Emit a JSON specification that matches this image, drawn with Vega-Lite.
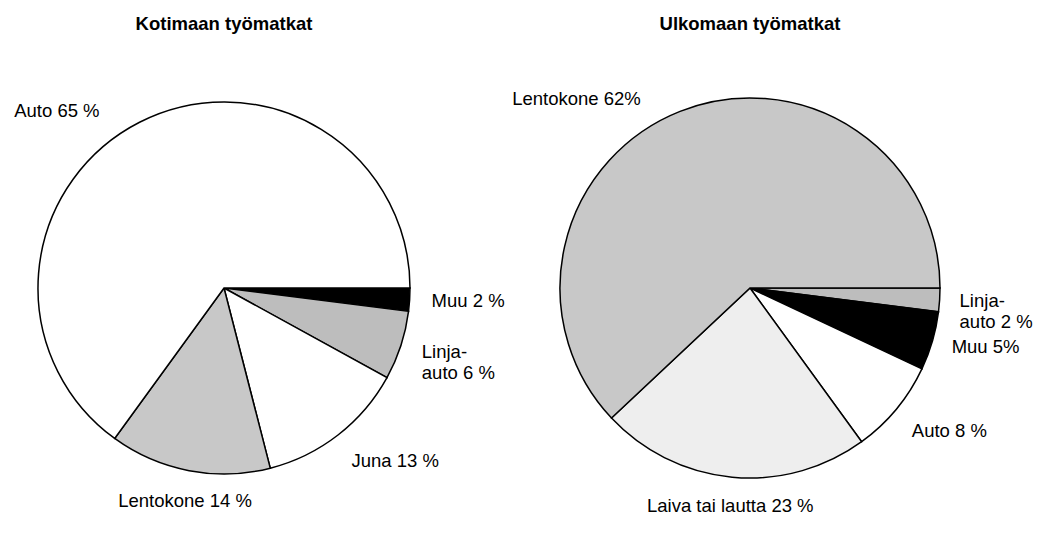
{
  "$schema": "https://vega.github.io/schema/vega-lite/v6.json",
  "background": "white",
  "padding": {"top": 14, "left": 0, "right": 0, "bottom": 0},
  "spacing": 78,
  "bounds": "flush",
  "config": {"view": {"stroke": null}, "font": "Liberation Sans"},
  "datasets": {
    "koti": [
      {"kulkuneuvo": "Muu", "osuus": 2, "nimi": "Muu 2 %", "jarjestys": 1},
      {"kulkuneuvo": "Linja-auto", "osuus": 6, "nimi": "Linja-\nauto 6 %", "jarjestys": 2},
      {"kulkuneuvo": "Juna", "osuus": 13, "nimi": "Juna 13 %", "jarjestys": 3},
      {"kulkuneuvo": "Lentokone", "osuus": 14, "nimi": "Lentokone 14 %", "jarjestys": 4},
      {"kulkuneuvo": "Auto", "osuus": 65, "nimi": "Auto 65 %", "jarjestys": 5}
    ],
    "ulko": [
      {"kulkuneuvo": "Linja-auto", "osuus": 2, "nimi": "Linja-\nauto 2 %", "jarjestys": 1},
      {"kulkuneuvo": "Muu", "osuus": 5, "nimi": "Muu 5%", "jarjestys": 2},
      {"kulkuneuvo": "Auto", "osuus": 8, "nimi": "Auto 8 %", "jarjestys": 3},
      {"kulkuneuvo": "Laiva tai lautta", "osuus": 23, "nimi": "Laiva tai lautta 23 %", "jarjestys": 4},
      {"kulkuneuvo": "Lentokone", "osuus": 62, "nimi": "Lentokone 62%", "jarjestys": 5}
    ]
  },
  "hconcat": [
    {
      "title": {"text": "Kotimaan työmatkat", "fontSize": 18.5, "fontWeight": "bold", "font": "Liberation Sans", "anchor": "middle", "offset": 18, "color": "black"},
      "width": 448,
      "height": 474,
      "data": {"name": "koti"},
      "encoding": {
        "theta": {"field": "osuus", "type": "quantitative", "stack": true, "scale": {"range": [1.5708, 7.854]}},
        "order": {"field": "jarjestys", "type": "quantitative"}
      },
      "layer": [
        {
          "mark": {"type": "arc", "outerRadius": 186, "stroke": "black", "strokeWidth": 1.5},
          "encoding": {
            "color": {"field": "kulkuneuvo", "type": "nominal", "legend": null,
              "scale": {"domain": ["Auto", "Juna", "Lentokone", "Linja-auto", "Muu", "Laiva tai lautta"],
                        "range": ["#ffffff", "#ffffff", "#c8c8c8", "#bdbdbd", "#000000", "#eeeeee"]}}
          }
        },
        {
          "mark": {
            "type": "text", "radius": 208, "fontSize": 18.5, "font": "Liberation Sans", "lineBreak": "\n", "color": "black",
            "thetaOffset": {"expr": "datum.osuus > 50 ? -0.17 : 0"},
            "align": {"expr": "cos(PI*(datum.osuus_start+datum.osuus_end)/100 + (datum.osuus > 50 ? -0.17 : 0)) > 0.25 ? 'left' : (cos(PI*(datum.osuus_start+datum.osuus_end)/100 + (datum.osuus > 50 ? -0.17 : 0)) < -0.25 ? 'right' : 'center')"},
            "baseline": {"expr": "sin(PI*(datum.osuus_start+datum.osuus_end)/100 + (datum.osuus > 50 ? -0.17 : 0)) > 0.5 ? 'top' : (sin(PI*(datum.osuus_start+datum.osuus_end)/100 + (datum.osuus > 50 ? -0.17 : 0)) < -0.5 ? 'bottom' : 'middle')"}
          },
          "encoding": {"text": {"field": "nimi", "type": "nominal"}}
        }
      ]
    },
    {
      "title": {"text": "Ulkomaan työmatkat", "fontSize": 18.5, "fontWeight": "bold", "font": "Liberation Sans", "anchor": "middle", "offset": 18, "color": "black"},
      "width": 448,
      "height": 474,
      "data": {"name": "ulko"},
      "encoding": {
        "theta": {"field": "osuus", "type": "quantitative", "stack": true, "scale": {"range": [1.5708, 7.854]}},
        "order": {"field": "jarjestys", "type": "quantitative"}
      },
      "layer": [
        {
          "mark": {"type": "arc", "outerRadius": 190, "stroke": "black", "strokeWidth": 1.5},
          "encoding": {
            "color": {"field": "kulkuneuvo", "type": "nominal", "legend": null,
              "scale": {"domain": ["Auto", "Juna", "Lentokone", "Linja-auto", "Muu", "Laiva tai lautta"],
                        "range": ["#ffffff", "#ffffff", "#d2d2d2", "#c8c8c8", "#000000", "#eeeeee"]}}
          }
        },
        {
          "mark": {
            "type": "text", "radius": 210, "fontSize": 18.5, "font": "Liberation Sans", "lineBreak": "\n", "color": "black",
            "thetaOffset": {"expr": "datum.osuus > 50 ? -0.17 : 0"},
            "align": {"expr": "cos(PI*(datum.osuus_start+datum.osuus_end)/100 + (datum.osuus > 50 ? -0.17 : 0)) > 0.25 ? 'left' : (cos(PI*(datum.osuus_start+datum.osuus_end)/100 + (datum.osuus > 50 ? -0.17 : 0)) < -0.25 ? 'right' : 'center')"},
            "baseline": {"expr": "sin(PI*(datum.osuus_start+datum.osuus_end)/100 + (datum.osuus > 50 ? -0.17 : 0)) > 0.5 ? 'top' : (sin(PI*(datum.osuus_start+datum.osuus_end)/100 + (datum.osuus > 50 ? -0.17 : 0)) < -0.5 ? 'bottom' : 'middle')"}
          },
          "encoding": {"text": {"field": "nimi", "type": "nominal"}}
        }
      ]
    }
  ]
}
